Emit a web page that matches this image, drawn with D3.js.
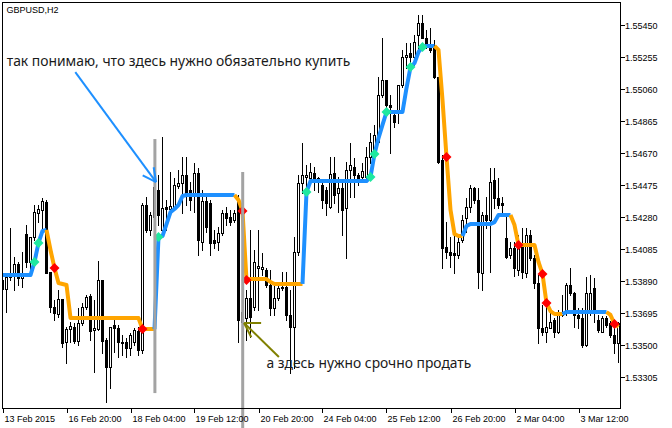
<!DOCTYPE html>
<html><head><meta charset="utf-8">
<script src="https://cdn.jsdelivr.net/npm/d3@7"></script>
<style>html,body{margin:0;padding:0;background:#fff;overflow:hidden}</style>
</head><body><svg id="c" width="672" height="428"></svg>
<script>
const symbolTitle = "GBPUSD,H2";
const opens = [1.53896,1.53841,1.53914,1.53926,1.53994,1.53908,1.54176,1.54006,1.54158,1.54304,1.54323,1.54371,1.53945,1.53731,1.53689,1.53780,1.53518,1.53597,1.53610,1.53524,1.53634,1.53731,1.53799,1.53591,1.53597,1.53896,1.53530,1.53366,1.53622,1.53604,1.53518,1.53518,1.53482,1.53518,1.53585,1.53469,1.54353,1.54201,1.54280,1.54444,1.54201,1.54341,1.54329,1.54335,1.54469,1.54487,1.54536,1.54444,1.54426,1.54548,1.54128,1.54377,1.54365,1.54140,1.54128,1.54182,1.54304,1.54280,1.54262,1.54384,1.53701,1.53664,1.53786,1.53731,1.53969,1.53963,1.53957,1.53866,1.53725,1.53786,1.53847,1.53853,1.53683,1.53610,1.54067,1.54487,1.54524,1.54518,1.54548,1.54518,1.54475,1.54444,1.54341,1.54548,1.54426,1.54457,1.54335,1.54566,1.54585,1.54536,1.54524,1.54524,1.54646,1.54688,1.54737,1.55023,1.55115,1.54962,1.54902,1.54932,1.55084,1.55255,1.55279,1.55255,1.55389,1.55462,1.55371,1.55316,1.55310,1.55133,1.54627,1.54097,1.54067,1.54061,1.54048,1.54140,1.54274,1.54341,1.54457,1.54384,1.53939,1.54292,1.54262,1.54505,1.54396,1.54365,1.54152,1.54048,1.54091,1.53957,1.54109,1.53939,1.54170,1.54030,1.53878,1.53604,1.53579,1.53604,1.53652,1.53579,1.53683,1.53695,1.53866,1.53817,1.53683,1.53664,1.53500,1.53713,1.53847,1.53652,1.53579,1.53664,1.53634,1.53561,1.53512];
const highs = [1.53926,1.53926,1.54213,1.54036,1.54006,1.54067,1.54231,1.54158,1.54353,1.54353,1.54396,1.54384,1.53945,1.53774,1.53835,1.53780,1.53610,1.53640,1.53634,1.53725,1.53756,1.53805,1.53811,1.53774,1.54012,1.53896,1.53543,1.53610,1.53652,1.53622,1.53561,1.53543,1.53573,1.53604,1.53610,1.54365,1.54402,1.54310,1.54493,1.54536,1.54767,1.54384,1.54554,1.54518,1.54566,1.54646,1.54646,1.54493,1.54609,1.54579,1.54444,1.54414,1.54384,1.54201,1.54219,1.54323,1.54341,1.54323,1.54323,1.54414,1.53774,1.53835,1.54201,1.54079,1.54201,1.54061,1.53969,1.53957,1.53859,1.53866,1.53945,1.53945,1.53835,1.54158,1.54536,1.54731,1.54597,1.54609,1.54585,1.54524,1.54505,1.54463,1.54646,1.54646,1.54524,1.54487,1.54615,1.54731,1.54639,1.54548,1.54609,1.54707,1.54792,1.54841,1.55133,1.55371,1.55115,1.55023,1.54932,1.55084,1.55298,1.55340,1.55340,1.55389,1.55511,1.55511,1.55420,1.55432,1.55358,1.55133,1.54658,1.54249,1.54158,1.54189,1.54170,1.54292,1.54396,1.54475,1.54463,1.54457,1.54310,1.54402,1.54579,1.54579,1.54518,1.54402,1.54292,1.54128,1.54128,1.54170,1.54213,1.54213,1.54201,1.54048,1.53926,1.53744,1.53805,1.53695,1.53664,1.53713,1.53805,1.53878,1.53969,1.53823,1.53725,1.53725,1.53914,1.53926,1.53908,1.53683,1.53677,1.53677,1.53646,1.53634,1.53640];
const lows = [1.53823,1.53701,1.53896,1.53835,1.53866,1.53853,1.53975,1.53926,1.54140,1.54249,1.54213,1.53939,1.53701,1.53652,1.53671,1.53488,1.53390,1.53518,1.53512,1.53500,1.53622,1.53719,1.53530,1.53335,1.53591,1.53451,1.53153,1.53238,1.53457,1.53427,1.53439,1.53427,1.53439,1.53500,1.53439,1.53451,1.54189,1.54170,1.54274,1.54231,1.54189,1.54201,1.54310,1.54323,1.54457,1.54304,1.54353,1.54323,1.54310,1.54048,1.54079,1.54189,1.54048,1.54091,1.54079,1.54170,1.54231,1.54231,1.54249,1.53518,1.53591,1.53530,1.53549,1.53713,1.53713,1.53926,1.53853,1.53683,1.53683,1.53774,1.53835,1.53652,1.53329,1.53360,1.54048,1.54426,1.54444,1.54487,1.54444,1.54432,1.54335,1.54292,1.54335,1.54365,1.54310,1.54170,1.54030,1.54402,1.54402,1.54475,1.54493,1.54518,1.54609,1.54658,1.54731,1.55011,1.54950,1.54670,1.54828,1.54853,1.55072,1.55188,1.55176,1.55206,1.55267,1.55371,1.55310,1.55285,1.55127,1.54609,1.53969,1.54030,1.53975,1.53939,1.54030,1.54128,1.54189,1.54310,1.54365,1.53847,1.53835,1.54213,1.53945,1.54335,1.54335,1.54292,1.54030,1.54030,1.53920,1.53926,1.53908,1.53914,1.54018,1.53847,1.53512,1.53561,1.53518,1.53604,1.53549,1.53573,1.53677,1.53683,1.53805,1.53610,1.53604,1.53488,1.53494,1.53683,1.53640,1.53579,1.53579,1.53610,1.53549,1.53451,1.53396];
const closes = [1.53841,1.53914,1.53939,1.53994,1.53908,1.53926,1.54006,1.54158,1.54310,1.54329,1.54377,1.53939,1.53731,1.53695,1.53780,1.53512,1.53597,1.53616,1.53524,1.53634,1.53731,1.53792,1.53585,1.53604,1.53896,1.53524,1.53366,1.53610,1.53604,1.53518,1.53512,1.53482,1.53561,1.53591,1.53469,1.54353,1.54201,1.54292,1.54463,1.54292,1.54335,1.54329,1.54347,1.54475,1.54487,1.54536,1.54426,1.54384,1.54548,1.54140,1.54377,1.54219,1.54122,1.54122,1.54182,1.54304,1.54274,1.54249,1.54304,1.53652,1.53640,1.53786,1.53671,1.54006,1.53981,1.53975,1.53866,1.53725,1.53786,1.53847,1.53853,1.53683,1.53610,1.54067,1.54487,1.54536,1.54536,1.54554,1.54518,1.54505,1.54384,1.54365,1.54542,1.54414,1.54457,1.54323,1.54566,1.54597,1.54536,1.54518,1.54560,1.54646,1.54737,1.54780,1.55023,1.55115,1.54962,1.54950,1.54859,1.55084,1.55255,1.55267,1.55255,1.55346,1.55462,1.55371,1.55316,1.55298,1.55133,1.54615,1.54091,1.54067,1.54048,1.54048,1.54128,1.54262,1.54341,1.54457,1.54384,1.53945,1.54292,1.54262,1.54493,1.54396,1.54353,1.54353,1.54036,1.54091,1.53969,1.54109,1.53945,1.54170,1.54030,1.53878,1.53604,1.53579,1.53610,1.53640,1.53579,1.53701,1.53695,1.53866,1.53817,1.53683,1.53664,1.53500,1.53817,1.53817,1.53701,1.53591,1.53664,1.53622,1.53561,1.53512,1.53634];
const signal = [1.53926,1.53926,1.53926,1.53926,1.53926,1.53926,1.53926,1.53926,1.54006,1.54122,1.54195,1.54201,1.54079,1.53969,1.53878,1.53872,1.53866,
1.53664,1.53664,1.53664,1.53664,1.53664,1.53664,1.53664,1.53664,1.53664,1.53664,1.53664,1.53664,1.53664,1.53664,1.53664,1.53664,1.53664,1.53664,
1.53597,1.53597,1.53597,1.53597,
1.54158,1.54164,1.54237,1.54310,1.54329,1.54353,1.54408,
1.54414,1.54414,1.54414,1.54414,1.54414,1.54414,1.54414,1.54414,1.54414,1.54414,1.54414,1.54414,1.54414,
1.54384,1.54317,1.53896,1.53902,1.53902,1.53902,1.53902,1.53902,1.53884,
1.53872,1.53872,1.53872,1.53872,1.53872,1.53872,1.53872,1.53872,
1.54432,
1.54499,1.54499,1.54499,1.54499,1.54499,1.54499,1.54499,1.54499,1.54499,1.54499,1.54499,1.54499,1.54499,1.54499,1.54499,
1.54524,1.54664,1.54761,1.54841,
1.54920,1.54920,1.54920,1.54920,1.54920,
1.55066,1.55194,1.55218,1.55285,1.55316,
1.55322,1.55322,1.55322,
1.55298,1.54993,1.54646,1.54323,1.54176,1.54164,1.54164,
1.54225,1.54237,1.54237,1.54237,1.54237,1.54237,1.54237,1.54249,
1.54292,1.54292,1.54292,1.54292,
1.54231,1.54109,1.54109,1.54109,1.54109,1.54109,
1.54006,1.53933,1.53756,1.53707,1.53689,1.53689,1.53689,
1.53701,1.53701,1.53701,1.53701,1.53701,1.53701,1.53701,1.53701,1.53701,1.53701,1.53701,
1.53683,1.53628,1.53610];
const trendStarts = [0,12,39,59,76,109,116,128,141,152];
const trendDirs = ["up","down","up","down","up","down","up","down","up","down"];
const buyMarks = [8,9,39,76,92,93,96,102,105];
const sellMarks = [13,35,60,61,111,129,135,136,153];
const priceTicks = [1.55450,1.55255,1.55060,1.54865,1.54670,1.54475,1.54280,1.54085,1.53890,1.53695,1.53500,1.53305];
const timeLabels = ["13 Feb 2015","16 Feb 20:00","18 Feb 04:00","19 Feb 12:00","20 Feb 20:00","24 Feb 04:00","25 Feb 12:00","26 Feb 20:00","2 Mar 04:00","3 Mar 12:00"];
const timeLabelBars = [0,16,32,48,64,80,96,112,128,144];
const vLines = [{bar:38.1, top:1.54755, bottom:1.53207},{bar:60.05, top:1.54554, bottom:1.52970}];
const notes = [
  {text:"так понимаю, что здесь нужно обязательно купить", bar:1.05, price:1.55198, width:344, color:"#1a1a1a",
   arrow:{fromBar:18.2, fromPrice:1.55163, toBar:38.4, toPrice:1.54493, color:"#1E90FF", arms:[[-27,15],[27,15]]}},
  {text:"а здесь нужно срочно продать", bar:66.0, price:1.53360, width:205, color:"#1a1a1a",
   arrow:{fromBar:69.1, fromPrice:1.53427, toBar:60.4, toPrice:1.53634, color:"#808000", arms:[[-44,17],[19,16]]}}
];

const svg = d3.select("#c");
const n = opens.length;
const L=2, T=2, R=620, B=408;
const x = d3.scaleLinear().domain([0,154]).range([2.5, 618.5]);
const y = d3.scaleLinear().domain([1.53305,1.55450]).range([377,25]);

svg.append("rect").attr("width",672).attr("height",428).attr("fill","#fff");
svg.append("defs").append("clipPath").attr("id","plot").append("rect")
  .attr("x",L).attr("y",T).attr("width",R-L).attr("height",B-T);

const plot = svg.append("g").attr("clip-path","url(#plot)");

// candles
const bars = d3.range(n);
const cg = plot.append("g").attr("shape-rendering","crispEdges");
cg.selectAll("line.wick").data(bars).join("line").attr("class","wick")
  .attr("x1",i=>x(i)).attr("x2",i=>x(i))
  .attr("y1",i=>Math.round(y(highs[i]))).attr("y2",i=>Math.round(y(lows[i]))+1)
  .attr("stroke","#000").attr("stroke-width",1);
cg.selectAll("rect.body").data(bars).join("rect").attr("class","body")
  .each(function(i){
    const up = closes[i] >= opens[i];
    const top = Math.round(y(Math.max(opens[i],closes[i])));
    const bot = Math.round(y(Math.min(opens[i],closes[i])));
    const s = d3.select(this);
    if (up) {
      s.attr("x",x(i)-1).attr("width",2).attr("y",top+0.5).attr("height",Math.max(bot-top,0.01))
       .attr("fill","#fff").attr("stroke","#000").attr("stroke-width",1);
    } else {
      s.attr("x",x(i)-1.5).attr("width",3).attr("y",top).attr("height",bot-top+1).attr("fill","#000");
    }
  });

// vertical gray lines
svg.append("g").selectAll("line").data(vLines).join("line")
  .attr("x1",d=>x(d.bar)).attr("x2",d=>x(d.bar))
  .attr("y1",d=>y(d.top)).attr("y2",d=>y(d.bottom))
  .attr("stroke","#a3a3a3").attr("stroke-width",3);

// indicator line in colored runs
const colors = {up:"#1E90FF", down:"#FFA500"};
const line = d3.line().x(i=>x(i)).y(i=>y(signal[i]));
const ig = plot.append("g");
trendStarts.forEach((s,j)=>{
  const e = j+1<trendStarts.length ? trendStarts[j+1]-1 : n-1;
  const idx = d3.range(Math.max(0,s-1), e+1);
  ig.append("path").attr("d",line(idx)).attr("fill","none")
    .attr("stroke",colors[trendDirs[j]]).attr("stroke-width",4)
    .attr("stroke-linejoin","round");
});

// markers
const diamond = "M0,-5L5,0L0,5L-5,0Z";
plot.append("g").selectAll("path").data(buyMarks).join("path")
  .attr("d",diamond).attr("transform",i=>`translate(${x(i)},${y(signal[i])})`).attr("fill","#1EE8A0");
plot.append("g").selectAll("path").data(sellMarks).join("path")
  .attr("d",diamond).attr("transform",i=>`translate(${x(i)},${y(signal[i])})`).attr("fill","#FF0000");

// frame
svg.append("rect").attr("x",L+0.5).attr("y",T+0.5).attr("width",R-L).attr("height",B-T)
  .attr("fill","none").attr("stroke","#000").attr("stroke-width",1).attr("shape-rendering","crispEdges");

// price axis
const pa = svg.append("g").attr("shape-rendering","crispEdges");
priceTicks.forEach(p=>{
  const yy = Math.round(y(p))+0.5;
  pa.append("line").attr("x1",R+1).attr("x2",R+5).attr("y1",yy).attr("y2",yy).attr("stroke","#000");
  svg.append("text").attr("x",R+5).attr("y",yy+3.3).text(d3.format(".5f")(p))
    .attr("font-family","Liberation Sans, Arial, sans-serif").attr("font-size",9).attr("fill","#000");
});
// time axis
timeLabels.forEach((t,j)=>{
  const xx = Math.round(x(timeLabelBars[j]))+0.5;
  pa.append("line").attr("x1",xx).attr("x2",xx).attr("y1",B+1).attr("y2",B+5).attr("stroke","#000");
  svg.append("text").attr("x",xx+1).attr("y",422).text(t)
    .attr("font-family","Liberation Sans, Arial, sans-serif").attr("font-size",9).attr("fill","#000");
});

// title
svg.append("text").attr("x",6.5).attr("y",13.3).text(symbolTitle)
  .attr("font-family","Liberation Sans, Arial, sans-serif").attr("font-size",9).attr("fill","#000");

// annotations
notes.forEach(nt=>{
  const a = nt.arrow;
  const x1=x(a.fromBar), y1=y(a.fromPrice), x2=x(a.toBar), y2=y(a.toPrice);
  const g = svg.append("g").attr("stroke",a.color).attr("stroke-width",2).attr("fill","none");
  g.append("line").attr("x1",x1).attr("y1",y1).attr("x2",x2).attr("y2",y2);
  const ang = Math.atan2(y1-y2, x1-x2);
  a.arms.forEach(([da,len])=>{
    const t = ang + da*Math.PI/180;
    g.append("line").attr("x1",x2).attr("y1",y2).attr("x2",x2+len*Math.cos(t)).attr("y2",y2+len*Math.sin(t));
  });
  const tx = svg.append("text").attr("x",x(nt.bar)).attr("y",y(nt.price)).text(nt.text)
    .attr("font-family","Noto Sans, DejaVu Sans, sans-serif").attr("font-size",14).attr("fill",nt.color);
  const w = tx.node().getComputedTextLength();
  tx.attr("font-size", 14*nt.width/w);
});
</script></body></html>
